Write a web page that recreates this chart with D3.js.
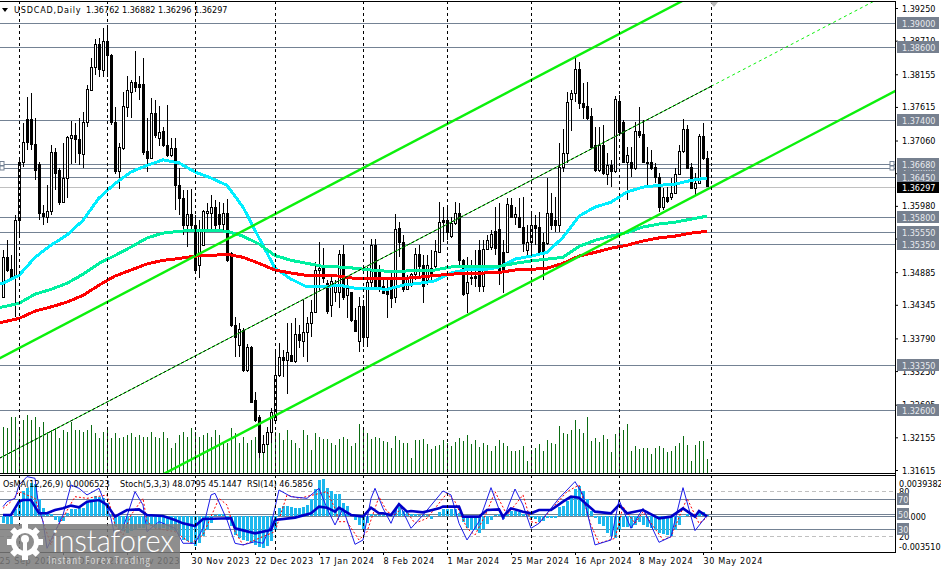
<!DOCTYPE html>
<html>
<head>
<meta charset="utf-8">
<title>USDCAD,Daily</title>
<script src="https://cdn.jsdelivr.net/npm/d3@7"></script>
<style>
    body { margin: 0; background: #fff; }
    svg { display: block; }
    text { font-family: "DejaVu Sans Condensed", "DejaVu Sans", sans-serif; font-stretch: condensed; font-size: 9px; fill: #000; }
    .box-label { fill: #e8eaee; }
    .bid-label { fill: #fff; }
</style>
</head>
<body>
<div id="chart"></div>
<script>
// candles, one entry per trading day
const opens = [
    1.3447,1.3512,1.3493,1.3480,1.3574,1.3670,1.3740,1.3741,1.3700,1.3667,
    1.3586,1.3579,1.3589,1.3687,1.3657,1.3604,1.3644,1.3710,1.3715,1.3707,
    1.3683,1.3735,1.3789,1.3826,1.3865,1.3821,1.3870,1.3847,1.3736,1.3654,
    1.3692,1.3761,1.3786,1.3802,1.3799,1.3799,1.3688,1.3677,1.3751,1.3710,
    1.3721,1.3697,1.3682,1.3693,1.3631,1.3611,1.3566,1.3584,1.3566,1.3500,
    1.3533,1.3586,1.3586,1.3596,1.3583,1.3568,1.3586,1.3520,1.3401,1.3368,
    1.3392,1.3326,1.3364,1.3277,1.3249,1.3191,1.3204,1.3224,1.3244,1.3318,
    1.3348,1.3343,1.3350,1.3341,1.3386,1.3374,1.3388,1.3404,1.3422,1.3492,
    1.3495,1.3470,1.3434,1.3455,1.3455,1.3518,1.3450,1.3455,1.3409,1.3374,
    1.3431,1.3381,1.3472,1.3533,1.3488,1.3464,1.3459,1.3475,1.3447,1.3561,
    1.3538,1.3460,1.3467,1.3485,1.3518,1.3500,1.3475,1.3495,1.3498,1.3521,
    1.3574,1.3573,1.3548,1.3569,1.3586,1.3508,1.3454,1.3480,1.3482,1.3525,
    1.3465,1.3526,1.3530,1.3556,1.3559,1.3521,1.3521,1.3599,1.3579,1.3578,
    1.3563,1.3525,1.3538,1.3566,1.3563,1.3538,1.3536,1.3586,1.3574,1.3566,
    1.3662,1.3685,1.3774,1.3783,1.3824,1.3768,1.3763,1.3745,1.3697,1.3657,
    1.3698,1.3650,1.3665,1.3654,1.3771,1.3735,1.3669,1.3669,1.3660,1.3721,
    1.3716,1.3670,1.3669,1.3662,1.3645,1.3596,1.3612,1.3612,1.3619,1.3650,
    1.3688,1.3725,1.3662,1.3627,1.3635,1.3713,1.3676
];
const highs = [
    1.3525,1.3541,1.3516,1.3583,1.3674,1.3735,1.3778,1.3784,1.3743,1.3670,
    1.3599,1.3632,1.3698,1.3693,1.3660,1.3702,1.3713,1.3738,1.3735,1.3743,
    1.3753,1.3798,1.3842,1.3874,1.3875,1.3892,1.3897,1.3849,1.3761,1.3702,
    1.3786,1.3812,1.3806,1.3854,1.3812,1.3842,1.3743,1.3776,1.3773,1.3763,
    1.3728,1.3764,1.3710,1.3710,1.3660,1.3624,1.3624,1.3626,1.3583,1.3574,
    1.3591,1.3602,1.3616,1.3607,1.3604,1.3602,1.3609,1.3521,1.3414,1.3404,
    1.3396,1.3369,1.3366,1.3290,1.3252,1.3219,1.3232,1.3264,1.3359,1.3371,
    1.3359,1.3404,1.3404,1.3412,1.3401,1.3442,1.3414,1.3442,1.3505,1.3538,
    1.3528,1.3475,1.3483,1.3475,1.3525,1.3533,1.3480,1.3455,1.3429,1.3447,
    1.3442,1.3497,1.3543,1.3543,1.3500,1.3475,1.3480,1.3492,1.3584,1.3571,
    1.3550,1.3483,1.3487,1.3528,1.3533,1.3516,1.3516,1.3525,1.3541,1.3604,
    1.3596,1.3599,1.3579,1.3604,1.3602,1.3511,1.3513,1.3508,1.3525,1.3541,
    1.3541,1.3550,1.3558,1.3596,1.3602,1.3541,1.3611,1.3611,1.3596,1.3611,
    1.3612,1.3566,1.3588,1.3583,1.3588,1.3553,1.3644,1.3619,1.3612,1.3702,
    1.3725,1.3786,1.3789,1.3842,1.3836,1.3801,1.3803,1.3759,1.3728,1.3728,
    1.3731,1.3685,1.3674,1.3779,1.3781,1.3740,1.3695,1.3695,1.3736,1.3761,
    1.3740,1.3695,1.3690,1.3669,1.3652,1.3627,1.3629,1.3644,1.3660,1.3698,
    1.3741,1.3731,1.3669,1.3652,1.3716,1.3735,1.3688
];
const lows = [
    1.3447,1.3488,1.3478,1.3414,1.3546,1.3662,1.3690,1.3690,1.3640,1.3574,
    1.3566,1.3569,1.3583,1.3624,1.3599,1.3602,1.3611,1.3667,1.3669,1.3665,
    1.3660,1.3728,1.3788,1.3814,1.3811,1.3811,1.3811,1.3731,1.3650,1.3626,
    1.3690,1.3745,1.3743,1.3786,1.3773,1.3682,1.3654,1.3677,1.3710,1.3697,
    1.3695,1.3678,1.3678,1.3591,1.3583,1.3550,1.3530,1.3558,1.3488,1.3478,
    1.3533,1.3556,1.3554,1.3556,1.3554,1.3558,1.3505,1.3397,1.3348,1.3348,
    1.3323,1.3323,1.3272,1.3240,1.3181,1.3189,1.3204,1.3206,1.3244,1.3315,
    1.3316,1.3287,1.3340,1.3338,1.3363,1.3348,1.3340,1.3381,1.3422,1.3459,
    1.3470,1.3419,1.3414,1.3439,1.3429,1.3442,1.3412,1.3406,1.3391,1.3356,
    1.3364,1.3364,1.3464,1.3459,1.3455,1.3452,1.3412,1.3429,1.3437,1.3513,
    1.3455,1.3459,1.3464,1.3475,1.3480,1.3437,1.3467,1.3470,1.3492,1.3520,
    1.3538,1.3541,1.3545,1.3566,1.3500,1.3449,1.3421,1.3467,1.3464,1.3455,
    1.3455,1.3525,1.3525,1.3516,1.3467,1.3454,1.3520,1.3578,1.3566,1.3561,
    1.3521,1.3516,1.3516,1.3533,1.3516,1.3475,1.3533,1.3558,1.3554,1.3554,
    1.3654,1.3669,1.3721,1.3769,1.3758,1.3741,1.3740,1.3692,1.3654,1.3654,
    1.3649,1.3632,1.3629,1.3652,1.3718,1.3669,1.3607,1.3645,1.3657,1.3710,
    1.3669,1.3632,1.3657,1.3635,1.3588,1.3591,1.3602,1.3607,1.3619,1.3649,
    1.3685,1.3659,1.3626,1.3616,1.3634,1.3674,1.3630
];
const closes = [
    1.3513,1.3492,1.3480,1.3574,1.3670,1.3702,1.3703,1.3700,1.3657,1.3586,
    1.3581,1.3589,1.3687,1.3652,1.3604,1.3644,1.3711,1.3715,1.3708,1.3685,
    1.3736,1.3791,1.3826,1.3865,1.3824,1.3870,1.3847,1.3736,1.3654,1.3695,
    1.3763,1.3788,1.3802,1.3793,1.3794,1.3687,1.3677,1.3751,1.3715,1.3720,
    1.3697,1.3682,1.3693,1.3631,1.3611,1.3566,1.3584,1.3566,1.3492,1.3558,
    1.3588,1.3589,1.3596,1.3566,1.3568,1.3586,1.3508,1.3401,1.3381,1.3394,
    1.3326,1.3364,1.3273,1.3244,1.3191,1.3204,1.3224,1.3257,1.3318,1.3348,
    1.3343,1.3356,1.3341,1.3386,1.3376,1.3388,1.3404,1.3422,1.3492,1.3495,
    1.3478,1.3424,1.3473,1.3464,1.3518,1.3447,1.3462,1.3409,1.3391,1.3431,
    1.3381,1.3472,1.3533,1.3462,1.3459,1.3454,1.3452,1.3445,1.3559,1.3538,
    1.3459,1.3480,1.3485,1.3518,1.3497,1.3464,1.3500,1.3483,1.3523,1.3571,
    1.3571,1.3554,1.3569,1.3586,1.3507,1.3452,1.3472,1.3478,1.3478,1.3465,
    1.3526,1.3540,1.3550,1.3528,1.3488,1.3488,1.3601,1.3579,1.3583,1.3563,
    1.3535,1.3538,1.3566,1.3561,1.3520,1.3521,1.3586,1.3566,1.3566,1.3662,
    1.3685,1.3769,1.3783,1.3824,1.3768,1.3761,1.3743,1.3695,1.3657,1.3698,
    1.3652,1.3665,1.3654,1.3773,1.3720,1.3670,1.3682,1.3660,1.3721,1.3715,
    1.3670,1.3669,1.3660,1.3645,1.3596,1.3612,1.3606,1.3619,1.3650,1.3688,
    1.3725,1.3660,1.3627,1.3635,1.3713,1.3677,1.3630
];
// tick volume, thousands
const volumes = [
    44,43,54,54,43,51,56,51,54,44, 49,39,41,43,33,41,39,49,41,41,
    39,41,46,38,33,39,44,33,38,33, 34,36,38,34,36,34,34,39,34,33,
    39,33,23,28,36,39,34,43,39,34, 36,38,34,41,36,28,28,43,38,28,
    34,28,31,34,28,23,38,36,39,38, 31,41,31,28,23,41,36,21,38,34,
    32,32,28,26,32,34,32,25,28,47, 44,38,32,34,33,30,29,23,35,31,
    28,28,13,31,31,32,27,22,25,26, 31,28,25,29,33,30,36,27,31,24,
    28,26,20,25,31,28,25,20,20,21, 25,10,21,23,27,20,31,28,27,45,
    38,37,41,51,42,38,54,30,33,29, 36,32,19,37,44,41,47,20,25,22,
    23,23,17,23,25,23,19,20,25,28, 35,26,10,26,30,30,12
];

// moving averages, read every 4th bar
const maIndex = d3.range(-4, 177, 4);
const maFast = [
    1.3469,1.3470,1.3483,1.3513,1.3533,1.3550,1.3574,1.3611,1.3635,1.3654,
    1.3665,1.3674,1.3669,1.3654,1.3644,1.3632,1.3596,1.3545,1.3495,1.3477,
    1.3464,1.3464,1.3467,1.3462,1.3462,1.3460,1.3467,1.3470,1.3474,1.3487,
    1.3493,1.3492,1.3497,1.3510,1.3515,1.3521,1.3546,1.3581,1.3596,1.3604,
    1.3621,1.3629,1.3632,1.3634,1.3640,1.3644
];
const maMid = [
    1.3429,1.3431,1.3437,1.3452,1.3460,1.3470,1.3485,1.3503,1.3516,1.3530,
    1.3545,1.3553,1.3556,1.3558,1.3558,1.3556,1.3548,1.3535,1.3516,1.3508,
    1.3503,1.3498,1.3497,1.3495,1.3492,1.3490,1.3490,1.3492,1.3492,1.3497,
    1.3497,1.3497,1.3498,1.3503,1.3507,1.3510,1.3513,1.3531,1.3541,1.3548,
    1.3554,1.3563,1.3568,1.3571,1.3576,1.3581
];
const maSlow = [
    1.3404,1.3406,1.3412,1.3424,1.3431,1.3439,1.3450,1.3467,1.3482,1.3492,
    1.3502,1.3508,1.3511,1.3515,1.3516,1.3518,1.3513,1.3503,1.3492,1.3487,
    1.3483,1.3483,1.3482,1.3478,1.3478,1.3478,1.3478,1.3480,1.3483,1.3485,
    1.3487,1.3487,1.3488,1.3492,1.3493,1.3495,1.3503,1.3515,1.3521,1.3528,
    1.3533,1.3540,1.3545,1.3548,1.3553,1.3556
];

// channel anchors: [bar, price]
const channelUpper = [[0, 1.3349], [176, 1.3958]];
const channelMiddle = [[0, 1.3184], [176, 1.3792]];
const channelLower = [[0, 1.3016], [176, 1.3625]];

const levels = [1.3900, 1.3860, 1.3740, 1.3660, 1.3668, 1.3645, 1.3580, 1.3555, 1.3535, 1.3335, 1.3260];
const bidPrice = 1.36297;
const priceTicks = [1.39250, 1.38710, 1.38155, 1.37615, 1.37060, 1.36520, 1.35980, 1.35440, 1.34885, 1.34345, 1.33790, 1.33250, 1.32695, 1.32155, 1.31615];

const monthBars = [4, 26, 48, 68, 90, 111, 132, 154, 177];
const dateBars = [-1, 15, 31, 47, 63, 79, 95, 111, 127, 143, 159, 175];
const dateLabels = ['25 Sep 2023', '17 Oct 2023', '8 Nov 2023', '30 Nov 2023', '22 Dec 2023', '17 Jan 2024', '8 Feb 2024', '1 Mar 2024', '25 Mar 2024', '16 Apr 2024', '8 May 2024', '30 May 2024'];

// OsMA, 1e-4 units
const osma = [
    -6.6,-7.3,-7.3,6.6,16.5,24.8,28,33,31.4,16.5,
    8.3,1.7,1.7,-3.3,-5.9,-5,3.3,6.6,6.6,8.3,
    8.3,14.9,16.5,19.8,18.8,18.2,13.2,1.7,-9.9,-13.2,
    -14.9,-16.5,-14.9,-13.2,-11.6,-11.6,-8.3,-9.9,-11.6,-12.5,
    -11.6,-12.5,-13.2,-14.9,-19.8,-23.1,-24.8,-26.4,-29,-26.4,
    -19.8,-13.2,-6.6,1,2.6,1.7,-3.3,-9.9,-18.2,-21.5,
    -23.1,-24.8,-26.4,-28,-30.4,-31.4,-29,-24.8,-13.2,8.3,
    9.9,9.9,9.2,8.3,8.3,9.2,10.6,16.5,26.4,35.6,
    36.3,28,24.8,21.5,21.5,13.2,9.9,1.7,-4,-8.3,
    -12.5,-6.6,1.7,1,1,1,1,1.7,6.6,9.2,
    5,3.3,2.6,2.6,1,0.7,0.7,-2.6,0.3,4,
    6.6,6.6,7.3,6.6,3.3,-5.9,-11.6,-13.2,-13.9,-16.5,
    -12.5,-7.3,-4,1,1.7,-2.6,1.7,5,5.3,4,
    2.6,1,-1.7,-2.6,-5.9,-4.6,-1.7,-1.7,-1.7,9.2,
    9.9,14.9,18.2,26.4,29.7,24.8,16.5,5,-1.7,-7.3,
    -9.2,-16.5,-19.1,-21.5,-13.2,-10.6,-10.6,-11.6,-8.3,-5.9,
    -8.3,-10.6,-11.6,-13.2,-16.5,-17.2,-18.2,-19.1,-13.2,-8.3,
    -1,1.7,1,-0.7,4,4,1
];

// oscillators, read at turning points
const stochIdx = [0,1,3,4,6,8,9,10,11,13,15,17,19,21,24,27,28,30,33,35,36,39,43,45,48,50,52,53,56,58,60,63,65,67,69,72,76,79,81,83,85,88,90,92,93,95,97,99,102,105,110,112,114,116,119,122,125,128,130,132,134,139,143,145,148,152,154,157,160,164,167,170,173,176];
const stochMain = [59.6,66.2,70.6,88.3,99.4,97.2,57.3,39.6,4.2,26.4,48.5,88.3,83.9,75.1,83.9,44.1,19.7,30.8,79.5,61.8,26.4,39.6,30.8,10.9,10.9,30.8,75.1,77.3,41.9,10.9,8.7,13.1,10.9,35.2,81.7,72.8,70.6,83.9,57.3,35.2,57.3,9.5,15.3,70.6,83.9,57.3,37.4,64,30.8,48.5,80.4,75.1,37.4,15.3,39.6,84.8,41.9,83,61.8,30.8,37.4,70.6,92.8,75.1,8.7,15.3,68.4,30.8,57.3,12.2,19.7,84.8,27.7,48.1];
const signalIdx = [0,2,4,8,10,12,13,18,21,26,28,30,32,35,36,38,43,47,50,54,56,58,60,66,68,71,74,81,83,84,86,89,91,94,96,98,100,103,106,111,113,116,118,121,123,126,130,132,134,141,144,147,149,153,155,158,160,165,167,171,174,176];
const stochSignal = [57.3,66.2,79.5,70.6,39.6,8.7,26.4,72.8,70.6,75.1,35.2,21.9,48.5,70.6,39.6,30.8,26.4,10.9,21.9,70.6,61.8,26.4,8.7,21.9,26.4,75.1,70.6,79.5,57.3,39.6,39.6,15.3,26.4,72.8,52.9,48.5,59.6,37.4,44.1,77.3,66.2,30.8,21.9,52.9,79.5,48.5,75.1,39.6,37.4,79.5,88.3,35.2,10.9,17.5,59.6,37.4,52.9,15.3,19.7,70.6,37.4,45.1];
const rsiIdx = [0,2,4,5,7,9,11,13,15,17,19,21,24,26,28,31,34,36,40,43,45,48,50,57,58,63,67,68,73,77,79,81,83,84,87,90,92,94,95,97,99,101,102,105,109,110,114,115,119,121,124,125,127,130,132,134,137,140,142,144,148,152,154,156,160,164,167,170,173,174,176];
const rsi = [48.5,48.5,66.2,68.4,68.4,50.7,50.7,55.1,57.3,60.9,58.7,66.2,68.4,61.8,46.3,55.1,56,48.5,47.2,41.9,37.4,33.9,43.2,44.1,30.8,24.1,28.6,41.9,45,50.7,59.6,58.2,52.9,58.2,48.5,46.3,58.2,50.7,50.7,48.5,62.7,52.9,53.8,52,57.3,59.6,59.6,46.3,46.3,55.1,56,46.3,57.3,52.9,50.7,55.1,55.1,66.2,72.8,71.5,52.9,50.7,61.8,50.7,55.1,44.1,46.3,57.3,46.3,53.8,46.6];
const subLevelsSolid = [70, 50, 30];
const subLevelsDashed = [80, 20];

const width = 941, height = 569;
const paneRight = 895, mainTop = 1, mainBottom = 473, subTop = 475, subBottom = 552;

const svg = d3.select('#chart').append('svg').attr('width', width).attr('height', height);

const x = d3.scaleLinear().domain([0, 176]).range([3, 707]);
const y = d3.scaleLinear().domain([1.31615, 1.39250]).range([470, 8]);
const yVol = d3.scaleLinear().domain([0, 60]).range([471, 411]);
const yOsc = d3.scaleLinear().domain([0, 100]).range([551.5, 476.2]);
const yOsma = d3.scaleLinear().domain([-35.1, 39.38]).range([552, 476]);

svg.append('clipPath').attr('id', 'clip-main').append('rect')
    .attr('x', 0).attr('y', mainTop).attr('width', paneRight).attr('height', mainBottom - mainTop);
svg.append('clipPath').attr('id', 'clip-sub').append('rect')
    .attr('x', 0).attr('y', subTop).attr('width', paneRight).attr('height', subBottom - subTop);

const main = svg.append('g').attr('clip-path', 'url(#clip-main)');
const sub = svg.append('g').attr('clip-path', 'url(#clip-sub)');

// horizontal levels
main.selectAll('.level').data(levels).enter().append('line')
    .attr('class', 'level')
    .attr('x1', 0).attr('x2', paneRight)
    .attr('y1', d => Math.round(y(d)) + 0.5).attr('y2', d => Math.round(y(d)) + 0.5)
    .attr('stroke', '#748294').attr('stroke-width', 1);
main.append('line')
    .attr('x1', 0).attr('x2', paneRight)
    .attr('y1', Math.round(y(bidPrice)) + 0.5).attr('y2', Math.round(y(bidPrice)) + 0.5)
    .attr('stroke', '#c0c0c0');

// month separators run through both panes
svg.append('g').selectAll('line').data(monthBars).enter().append('line')
    .attr('x1', d => x(d) + 0.5).attr('x2', d => x(d) + 0.5)
    .attr('y1', mainTop).attr('y2', subBottom)
    .attr('stroke', '#000').attr('stroke-dasharray', '3,3');

// volume
main.selectAll('.vol').data(volumes).enter().append('line')
    .attr('class', 'vol')
    .attr('x1', (d, i) => x(i) + 0.5).attr('x2', (d, i) => x(i) + 0.5)
    .attr('y1', d => yVol(d)).attr('y2', mainBottom)
    .attr('stroke', '#0b6b12');

// candles
const bars = d3.range(opens.length);
const candleG = main.append('g').attr('shape-rendering', 'crispEdges');
candleG.selectAll('.wick').data(bars).enter().append('line')
    .attr('class', 'wick')
    .attr('x1', i => x(i) + 0.5).attr('x2', i => x(i) + 0.5)
    .attr('y1', i => y(highs[i])).attr('y2', i => y(lows[i]))
    .attr('stroke', '#000');
candleG.selectAll('.body').data(bars).enter().append('rect')
    .attr('class', 'body')
    .attr('x', i => x(i) - 0.5).attr('width', 2)
    .attr('y', i => y(Math.max(opens[i], closes[i])))
    .attr('height', i => Math.max(1, Math.abs(y(opens[i]) - y(closes[i]))))
    .attr('fill', i => closes[i] >= opens[i] ? '#fff' : '#000')
    .attr('stroke', '#000').attr('stroke-width', 1);

// moving averages
const maLine = d3.line().x((d, i) => x(maIndex[i])).y(d => y(d));
[[maFast, '#00eeff'], [maMid, '#00f0a0'], [maSlow, '#ff0000']].forEach(([vals, col]) => {
    main.append('path').datum(vals)
        .attr('d', maLine).attr('fill', 'none').attr('shape-rendering', 'crispEdges')
        .attr('stroke', col).attr('stroke-width', 3).attr('stroke-linejoin', 'round');
});

// channel lines are extended past their anchors
function channelEnds(anchor) {
    const price = d3.scaleLinear().domain([anchor[0][0], anchor[1][0]]).range([anchor[0][1], anchor[1][1]]);
    return [[-2, price(-2)], [224, price(224)]];
}
function channelSeg(pts) {
    return d3.line().x(d => x(d[0])).y(d => y(d[1]))(pts);
}
[channelUpper, channelLower].forEach(a => {
    main.append('path').attr('d', channelSeg(channelEnds(a)))
        .attr('fill', 'none').attr('stroke', '#0cf00c').attr('stroke-width', 2.4);
});
// middle line: solid with black dashes up to the last bar, green dots after it
const midPrice = d3.scaleLinear().domain([channelMiddle[0][0], channelMiddle[1][0]]).range([channelMiddle[0][1], channelMiddle[1][1]]);
const midSolid = [[-2, midPrice(-2)], [177, midPrice(177)]];
const midRay = [[177, midPrice(177)], [224, midPrice(224)]];
main.append('path').attr('d', channelSeg(midSolid)).attr('stroke', '#0cf00c').attr('fill', 'none');
main.append('path').attr('d', channelSeg(midSolid)).attr('stroke', '#000').attr('fill', 'none').attr('stroke-dasharray', '3,2');
main.append('path').attr('d', channelSeg(midRay)).attr('stroke', '#0cf00c').attr('fill', 'none').attr('stroke-dasharray', '3,3');

// sub pane levels
sub.selectAll('.sublevel').data(subLevelsSolid).enter().append('line')
    .attr('x1', 0).attr('x2', paneRight)
    .attr('y1', d => Math.round(yOsc(d)) + 0.5).attr('y2', d => Math.round(yOsc(d)) + 0.5)
    .attr('stroke', '#748294');
sub.selectAll('.subdash').data(subLevelsDashed).enter().append('line')
    .attr('x1', 0).attr('x2', paneRight)
    .attr('y1', d => Math.round(yOsc(d)) + 0.5).attr('y2', d => Math.round(yOsc(d)) + 0.5)
    .attr('stroke', '#c0c0c0').attr('stroke-dasharray', '4,3');
sub.append('line').attr('x1', 0).attr('x2', paneRight)
    .attr('y1', Math.round(yOsma(0)) + 0.5).attr('y2', Math.round(yOsma(0)) + 0.5)
    .attr('stroke', '#748294');

// OsMA histogram
sub.append('g').attr('shape-rendering', 'crispEdges').selectAll('rect').data(osma).enter().append('rect')
    .attr('x', (d, i) => x(i) - 1).attr('width', 3)
    .attr('y', d => Math.min(yOsma(d), yOsma(0)))
    .attr('height', d => Math.abs(yOsma(d) - yOsma(0)))
    .attr('fill', '#1cb8ee');

// stochastic and rsi
const lineFrom = idx => d3.line().x((d, i) => x(idx[i])).y(d => yOsc(d));
sub.append('path').datum(stochSignal).attr('d', lineFrom(signalIdx))
    .attr('fill', 'none').attr('stroke', '#f00').attr('stroke-dasharray', '2,2');
sub.append('path').datum(stochMain).attr('d', lineFrom(stochIdx))
    .attr('fill', 'none').attr('stroke', '#1c1ce8');
sub.append('path').datum(rsi).attr('d', lineFrom(rsiIdx))
    .attr('fill', 'none').attr('stroke', '#0000c8').attr('stroke-width', 2.6);

// frames
const frame = svg.append('g').attr('shape-rendering', 'crispEdges').attr('stroke', '#000').attr('fill', 'none');
frame.append('line').attr('x1', 0).attr('x2', paneRight).attr('y1', mainTop + 0.5).attr('y2', mainTop + 0.5);
frame.append('line').attr('x1', 0).attr('x2', paneRight).attr('y1', mainBottom + 0.5).attr('y2', mainBottom + 0.5);
frame.append('line').attr('x1', 0).attr('x2', paneRight).attr('y1', subTop + 0.5).attr('y2', subTop + 0.5);
frame.append('line').attr('x1', 0).attr('x2', paneRight + 1).attr('y1', subBottom + 0.5).attr('y2', subBottom + 0.5);
frame.append('line').attr('x1', paneRight + 0.5).attr('x2', paneRight + 0.5).attr('y1', mainTop).attr('y2', subBottom);

// object handles on the selected level
[2, paneRight - 3].forEach(cx => {
    [163.5, 168].forEach(cy => {
        svg.append('rect').attr('x', cx - 2).attr('y', cy - 2).attr('width', 4).attr('height', 4)
            .attr('fill', '#fff').attr('stroke', '#748294');
    });
});

// top marker of the last bar
svg.append('path').attr('d', d3.line()([[710, 2], [718, 2], [714, 7]])).attr('fill', '#b8b8b8');

// price axis
const priceAxis = d3.axisRight(y).tickValues(priceTicks).tickFormat(d3.format('.5f')).tickSize(3);
const priceAxisG = svg.append('g').attr('transform', `translate(${paneRight},0)`).call(priceAxis);
priceAxisG.select('.domain').remove();
priceAxisG.selectAll('text').attr('x', 7).attr('dy', '0.34em');
priceAxisG.selectAll('line').attr('stroke', '#000');

// boxed level labels
const labelG = svg.append('g');
levels.forEach(v => {
    const yy = Math.round(y(v));
    labelG.append('rect').attr('x', 897).attr('y', yy - 6).attr('width', 42).attr('height', 12).attr('fill', '#76808f');
    labelG.append('text').attr('class', 'box-label').attr('x', 902).attr('y', yy + 3.5).text(v.toFixed(5));
});
labelG.append('rect').attr('x', 897).attr('y', Math.round(y(bidPrice)) - 5).attr('width', 42).attr('height', 11).attr('fill', '#000');
labelG.append('text').attr('class', 'bid-label').attr('x', 902).attr('y', Math.round(y(bidPrice)) + 3.5).text(bidPrice.toFixed(5));

// date axis
const dateAxis = d3.axisBottom(x).tickValues(dateBars)
    .tickFormat((d, i) => dateLabels[i]).tickSize(3);
const dateG = svg.append('g').attr('transform', `translate(0,${subBottom})`).call(dateAxis);
dateG.select('.domain').remove();
dateG.selectAll('text').attr('text-anchor', 'start').attr('x', 0).attr('y', 6).attr('dy', '0.71em')
    .style('letter-spacing', '0.6px');

// sub pane scale labels
const oscScaleLabels = ['0.0039382', '80', '-0.003510'];
const oscScalePos = [yOsma(39.38) + 7, yOsc(80), yOsma(-35.1) - 6];
oscScaleLabels.forEach((t, i) => {
    svg.append('text').attr('x', 899).attr('y', oscScalePos[i] + 3.5).text(t);
});
svg.append('text').attr('x', 908).attr('y', yOsma(0) + 3.5).text('.000');
svg.append('text').attr('x', 899).attr('y', yOsc(20) + 3.5).text('20');
subLevelsSolid.forEach(v => {
    const yy = Math.round(yOsc(v));
    svg.append('rect').attr('x', 897).attr('y', yy - 6).attr('width', 12).attr('height', 12).attr('fill', '#76808f');
    svg.append('text').attr('class', 'box-label').attr('x', 898).attr('y', yy + 3.5).text(v);
});

// pane captions
svg.append('path').attr('d', d3.line()([[2, 8], [8, 8], [5, 12]])).attr('fill', '#000');
svg.append('text').attr('x', 14).attr('y', 13).style('letter-spacing', '0.8px').text('USDCAD,Daily');
['1.36762', '1.36882', '1.36296', '1.36297'].forEach((t, i) => {
    svg.append('text').attr('x', 86 + i * 36).attr('y', 13).text(t);
});
svg.append('text').attr('x', 3).attr('y', 487).text('OsMA(12,26,9) 0.0006523');
svg.append('text').attr('x', 120).attr('y', 487).text('Stoch(5,3,3) 48.0795 45.1447');
svg.append('text').attr('x', 247).attr('y', 487).text('RSI(14) 46.5856');

// watermark
const logo = svg.append('g');
logo.append('rect').attr('x', 0).attr('y', 524).attr('width', 180).attr('height', 45)
    .attr('fill', '#7a7a7a').attr('fill-opacity', 0.85);
const gear = logo.append('g').attr('transform', 'translate(25,542)').attr('fill', '#fff');
d3.range(8).forEach(i => {
    gear.append('rect').attr('x', -3).attr('y', -18).attr('width', 6).attr('height', 7)
        .attr('transform', `rotate(${i * 45})`);
});
gear.append('circle').attr('r', 11.5).attr('fill', 'none').attr('stroke', '#fff').attr('stroke-width', 5);
gear.append('circle').attr('cy', -3).attr('r', 4);
gear.append('rect').attr('x', -2).attr('y', -3).attr('width', 4).attr('height', 18);
logo.append('text').attr('x', 52).attr('y', 552)
    .attr('textLength', 122).attr('lengthAdjust', 'spacingAndGlyphs')
    .style('font-family', 'Lato, "Open Sans", sans-serif').style('font-weight', 300).style('font-size', '31px')
    .style('fill', '#fff').text('instaforex');
logo.append('text').attr('x', 48).attr('y', 564)
    .attr('textLength', 102)
    .style('font-family', '"Open Sans", sans-serif').style('font-size', '11.5px')
    .style('fill', '#fff').style('fill-opacity', 0.65).text('Instant Forex Trading');
</script>
</body>
</html>
